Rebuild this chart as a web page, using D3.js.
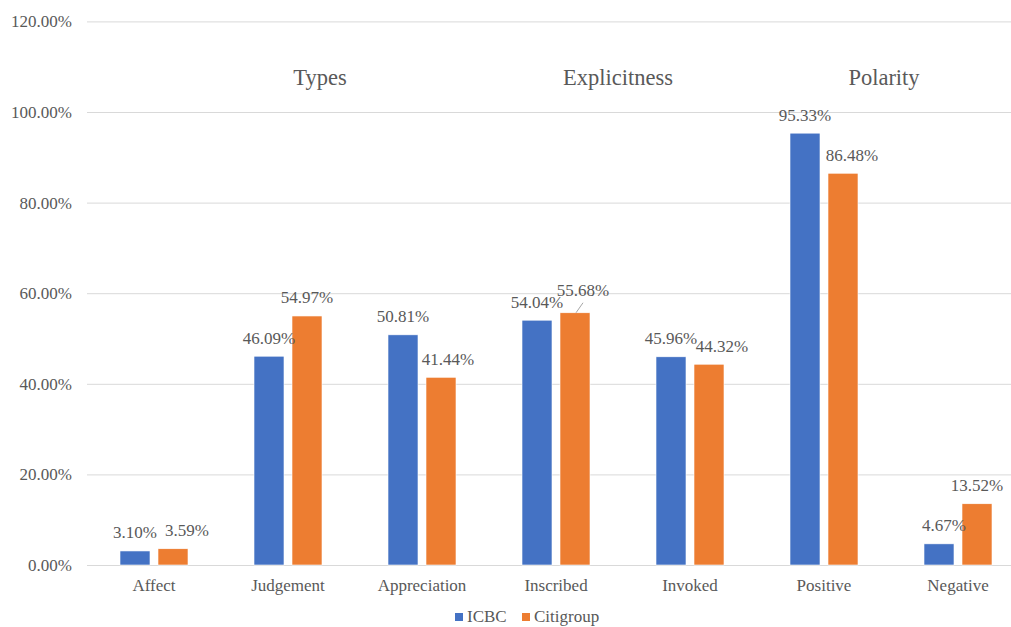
<!DOCTYPE html>
<html>
<head>
<meta charset="utf-8">
<script src="https://cdn.jsdelivr.net/npm/d3@7"></script>
<style>
  html, body { margin: 0; padding: 0; background: #fff; }
  svg { display: block; }
  svg text { font-family: "Liberation Serif", "Times New Roman", serif !important; }
</style>
</head>
<body>
<svg id="chart" width="1011" height="627"></svg>
<script>
// Appraisal resources in ICBC and Citigroup reports (percentage of each dimension)
const categories = ["Affect", "Judgement", "Appreciation", "Inscribed", "Invoked", "Positive", "Negative"];
const seriesNames = ["ICBC", "Citigroup"];
const icbcValues = [3.10, 46.09, 50.81, 54.04, 45.96, 95.33, 4.67];
const citigroupValues = [3.59, 54.97, 41.44, 55.68, 44.32, 86.48, 13.52];
const yTicks = [0, 20, 40, 60, 80, 100, 120];
const groupTitles = ["Types", "Explicitness", "Polarity"];

const colors = { ICBC: "#4472C4", Citigroup: "#ED7D31" };
const textColor = "#595959";
const gridColor = "#d9d9d9";

// hand-placed data labels (pixel nudges), as laid out in the original workbook
const labelNudge = {
  "Citigroup|Affect": [14, 0],
  "Citigroup|Appreciation": [7, 0],
  "Citigroup|Inscribed": [8, -4],
  "Citigroup|Invoked": [13, 0],
  "Citigroup|Positive": [9, 0],
  "ICBC|Negative": [5, 0]
};
const leaderLines = new Set(["Citigroup|Inscribed"]);

const svg = d3.select("#chart");
const plot = { left: 87, right: 1025, top: 21.4, bottom: 565 };

const x0 = d3.scaleBand().domain(categories).range([plot.left, plot.right]).padding(0);
const x1 = d3.scaleBand().domain(seriesNames)
  .range([29, 105]).paddingInner(8 / 38).paddingOuter(4 / 38);
const y = d3.scaleLinear().domain([0, 120]).range([plot.bottom, plot.top]);

const rows = categories.map((c, i) => ({
  category: c,
  values: [
    { series: "ICBC", value: icbcValues[i] },
    { series: "Citigroup", value: citigroupValues[i] }
  ]
}));

// gridlines + y tick labels
const yAxis = d3.axisLeft(y).tickValues(yTicks)
  .tickSize(-(plot.right - plot.left))
  .tickPadding(15)
  .tickFormat(d => d.toFixed(2) + "%");
const gy = svg.append("g").attr("transform", `translate(${plot.left},0)`).call(yAxis);
gy.select(".domain").remove();
gy.selectAll(".tick line").attr("stroke", gridColor).attr("stroke-width", 1);
gy.selectAll(".tick text").attr("fill", textColor).attr("font-size", 17);

// x axis (category labels)
const xAxis = d3.axisBottom(x0).tickSize(0).tickPadding(14);
const gx = svg.append("g").attr("transform", `translate(0,${plot.bottom})`).call(xAxis);
gx.select(".domain").attr("stroke", gridColor);
gx.selectAll(".tick text").attr("fill", textColor).attr("font-size", 17);

// bars
const groups = svg.append("g").selectAll("g.cat").data(rows).join("g")
  .attr("class", "cat")
  .attr("transform", d => `translate(${x0(d.category)},0)`);

groups.selectAll("rect").data(d => d.values.map(v => ({ ...v, category: d.category }))).join("rect")
  .attr("x", d => x1(d.series))
  .attr("width", x1.bandwidth())
  .attr("y", d => y(d.value))
  .attr("height", d => y(0) - y(d.value))
  .attr("fill", d => colors[d.series])
  .attr("stroke", "#fff").attr("stroke-width", 0.6);

// data labels
groups.each(function (d) {
  const g = d3.select(this);
  d.values.forEach(v => {
    const key = v.series + "|" + d.category;
    const [dx, dy] = labelNudge[key] || [0, 0];
    const cx = x1(v.series) + x1.bandwidth() / 2;
    const top = y(v.value);
    if (leaderLines.has(key)) {
      g.append("line")
        .attr("x1", cx + 1).attr("y1", top)
        .attr("x2", cx + dx).attr("y2", top - 10)
        .attr("stroke", "#a6a6a6").attr("stroke-width", 1);
    }
    g.append("text")
      .attr("x", cx + dx)
      .attr("y", top - 12.5 + dy)
      .attr("text-anchor", "middle")
      .attr("fill", textColor)
      .attr("font-size", 17)
      .text(v.value.toFixed(2) + "%");
  });
});

// dimension titles
const titleX = [
  (x0("Judgement") + x0("Appreciation")) / 2 + 32,
  x0("Invoked") - 5,
  x0("Negative") - 7
];
svg.append("g").selectAll("text").data(groupTitles).join("text")
  .attr("x", (d, i) => titleX[i])
  .attr("y", 85)
  .attr("text-anchor", "middle")
  .attr("fill", textColor)
  .attr("font-size", 22.5)
  .text(d => d);

// legend
const legend = svg.append("g").attr("transform", "translate(455,622)");
const legendOffsets = [0, 67];
seriesNames.forEach((s, i) => {
  const lg = legend.append("g").attr("transform", `translate(${legendOffsets[i]},0)`);
  lg.append("rect").attr("x", 0).attr("y", -9).attr("width", 8).attr("height", 8).attr("fill", colors[s]);
  lg.append("text").attr("x", 12).attr("y", 0)
    .attr("fill", textColor).attr("font-size", 17).text(s);
});
</script>
</body>
</html>
